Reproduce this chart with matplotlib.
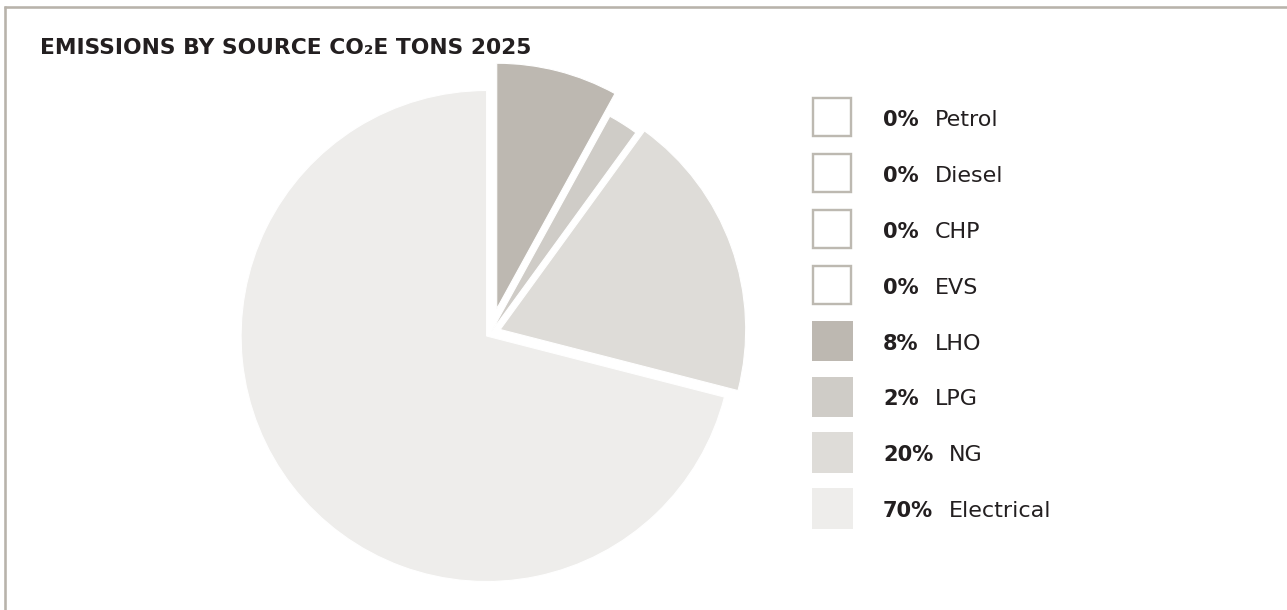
import matplotlib
matplotlib.use("Agg")
import matplotlib.pyplot as plt
from matplotlib.patches import Rectangle

# ---------------- data ----------------
categories = ["Petrol", "Diesel", "CHP", "EVS", "LHO", "LPG", "NG", "Electrical"]
legend_pct = [0, 0, 0, 0, 8, 2, 20, 70]          # printed percentages
slice_share = [0, 0, 0, 0, 8, 2, 19, 71]         # angular shares as drawn in the pie
colors = ["#ffffff", "#ffffff", "#ffffff", "#ffffff",
          "#bdb8b1", "#cfccc7", "#dedcd8", "#eeedeb"]
title = "EMISSIONS BY SOURCE CO\u2082E TONS 2025"

# ---------------- style ----------------
W, H, DPI = 1287, 610, 100
border_col = "#b8b3ab"
outline_col = "#bdb9b1"
text_col = "#231f20"
explode_amt = {"LHO": 0.102, "LPG": 0.008, "NG": 0.042, "Electrical": 0.02}

fig = plt.figure(figsize=(W / DPI, H / DPI), dpi=DPI)
fig.patch.set_facecolor("white")

# pie axes placed in pixel terms
R_px, cx, cy, L = 245.5, 490.5, 333, 1.3
side = 2 * L * R_px
ax = fig.add_axes([(cx - side / 2) / W, (H - cy - side / 2) / H, side / W, side / H])
idx = [i for i, v in enumerate(slice_share) if v > 0]
ax.pie([slice_share[i] for i in idx],
       colors=[colors[i] for i in idx],
       explode=[explode_amt[categories[i]] for i in idx],
       startangle=90, counterclock=False,
       wedgeprops=dict(edgecolor="white", linewidth=0.8))
ax.set_xlim(-L, L)
ax.set_ylim(-L, L)
ax.set_aspect("equal")
ax.axis("off")

# overlay in pixel coordinates
ov = fig.add_axes([0, 0, 1, 1])
ov.set_xlim(0, W)
ov.set_ylim(H, 0)
ov.axis("off")

lw_b = 2.6 * 72 / DPI
ov.plot([4, W], [7, 7], color=border_col, lw=lw_b, solid_capstyle="butt")
ov.plot([5.3, 5.3], [5.7, H], color=border_col, lw=lw_b, solid_capstyle="butt")

renderer = fig.canvas.get_renderer()

# title, scaled to the reference width
t = ov.text(40, 54.3, title, fontsize=16, fontweight="bold", color=text_col,
            va="baseline", ha="left", family="DejaVu Sans")
w = t.get_window_extent(renderer).width
t.set_fontsize(16 * 490 / w)

# legend
row0, step = 118.3, 55.9
box = 40.6
for i, (cat, p) in enumerate(zip(categories, legend_pct)):
    yc = row0 + step * i
    by = yc - 1 - box / 2
    if slice_share[i] == 0:
        lw = 2.4
        ov.add_patch(Rectangle((812 + lw / 2, by + lw / 2), box - lw, box - lw,
                               facecolor="white", edgecolor=outline_col,
                               linewidth=lw * 72 / DPI))
    else:
        ov.add_patch(Rectangle((812, by), box, box, facecolor=colors[i],
                               edgecolor="none"))
    pt = ov.text(883, yc + 7.65, f"{p}%", fontsize=15.1, fontweight="bold",
                 color=text_col, va="baseline", ha="left", family="DejaVu Sans")
    x_end = pt.get_window_extent(renderer).x1
    ov.text(x_end + 16, yc + 7.65, cat, fontsize=16, color=text_col,
            va="baseline", ha="left", family="DejaVu Sans")

fig.savefig("out.png", dpi=DPI, facecolor="white")
